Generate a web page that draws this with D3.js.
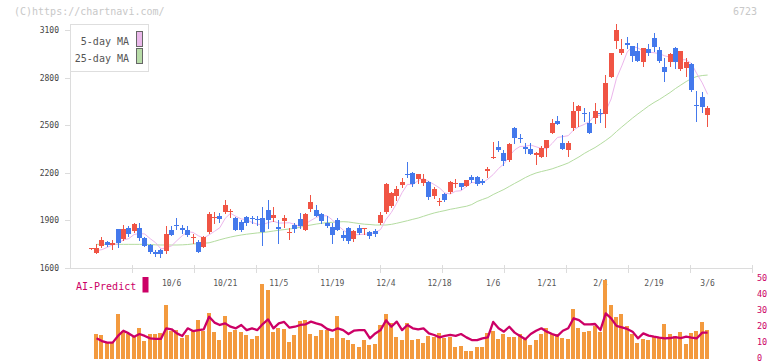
<!DOCTYPE html>
<html><head><meta charset="utf-8">
<script src="https://cdn.jsdelivr.net/npm/d3@7"></script>
<style>body{margin:0;background:#fff}svg{display:block}text{font-family:"DejaVu Sans Mono",monospace}</style>
</head><body><svg id="c" width="772" height="361"></svg>
<script>
const dates = ["9/11","9/12","9/16","9/17","9/18","9/19","9/22","9/24","9/25","9/26",
"9/29","9/30","10/1","10/2","10/3","10/6","10/7","10/8","10/9","10/10",
"10/14","10/15","10/16","10/17","10/20","10/21","10/22","10/23","10/24","10/27",
"10/28","10/29","10/30","10/31","11/4","11/5","11/6","11/7","11/10","11/11",
"11/12","11/13","11/14","11/17","11/18","11/19","11/20","11/21","11/25","11/26",
"11/27","11/28","12/1","12/2","12/3","12/4","12/5","12/8","12/9","12/10",
"12/11","12/12","12/15","12/16","12/17","12/18","12/19","12/22","12/23","12/24",
"12/25","12/26","12/29","12/30","1/5","1/6","1/7","1/8","1/9","1/13",
"1/14","1/15","1/16","1/19","1/20","1/21","1/22","1/23","1/26","1/27",
"1/28","1/29","1/30","2/2","2/3","2/4","2/5","2/6","2/9","2/10",
"2/12","2/13","2/16","2/17","2/18","2/19","2/20","2/24","2/25","2/26",
"2/27","3/2","3/3","3/4","3/5","3/6"];
const open = [1722,1696,1739,1766,1743,1846,1783,1854,1835,1852,
1791,1745,1703,1711,1707,1840,1871,1852,1840,1789,
1766,1734,1827,1915,1928,1953,1951,1915,1890,1922,
1912,1908,1915,1966,1912,1860,1894,1827,1869,1909,
1840,1974,1966,1940,1886,1860,1903,1808,1851,1781,
1851,1846,1827,1833,1882,1955,1993,2056,2125,2194,
2197,2163,2138,2144,2056,2016,2068,2081,2132,2134,
2119,2173,2173,2151,2213,2298,2363,2323,2281,2484,
2421,2365,2348,2314,2302,2354,2453,2526,2388,2346,
2484,2592,2578,2514,2547,2574,2570,2806,3033,2957,
3018,2999,2968,2901,2981,3052,2974,2869,2901,2989,
2853,2863,2886,2629,2676,2564];
const high = [1724,1749,1795,1772,1776,1846,1871,1865,1886,1884,
1797,1751,1711,1718,1865,1865,1917,1871,1865,1816,
1778,1804,1953,1951,1945,2029,1972,1920,1903,1928,
1925,1928,1986,2029,1982,1903,1934,1854,1882,1945,
1945,2060,1997,1945,1928,1882,1913,1833,1857,1840,
1871,1852,1833,1844,1953,2138,2078,2117,2169,2268,
2204,2192,2192,2148,2112,2039,2075,2148,2161,2138,
2157,2184,2182,2159,2237,2394,2400,2344,2388,2491,
2445,2386,2386,2333,2369,2407,2537,2558,2438,2400,
2644,2627,2606,2581,2638,2602,2816,2953,3136,3044,
3054,2999,3016,2989,3010,3083,2995,2926,2957,2995,
2968,2922,2894,2716,2707,2623];
const low = [1722,1696,1734,1739,1722,1734,1776,1804,1829,1776,
1739,1695,1678,1671,1696,1810,1844,1823,1804,1756,
1703,1732,1821,1882,1888,1947,1920,1840,1833,1871,
1882,1871,1745,1851,1896,1760,1860,1785,1829,1851,
1840,1962,1925,1886,1860,1760,1840,1776,1760,1772,
1814,1816,1791,1804,1878,1949,1987,2029,2109,2171,
2119,2134,2123,2037,2044,1997,2025,2075,2112,2096,
2119,2144,2123,2127,2176,2295,2339,2249,2274,2390,
2396,2323,2319,2258,2299,2308,2449,2509,2350,2308,
2470,2497,2528,2449,2512,2519,2490,2806,2989,2948,
2985,2907,2907,2876,2942,2970,2901,2779,2876,2863,
2845,2813,2716,2526,2585,2495];
const close = [1724,1724,1776,1745,1759,1759,1846,1814,1879,1791,
1741,1701,1686,1686,1816,1810,1869,1840,1810,1793,
1703,1797,1940,1920,1909,1997,1961,1840,1840,1886,
1910,1904,1825,1903,1934,1848,1912,1829,1848,1865,
1940,2016,1928,1898,1865,1808,1840,1791,1772,1833,
1819,1850,1802,1812,1934,2131,2071,2098,2142,2192,
2129,2192,2163,2049,2098,2020,2029,2140,2135,2112,
2155,2155,2127,2138,2224,2300,2344,2276,2382,2417,
2411,2348,2319,2327,2359,2407,2514,2509,2350,2388,
2589,2621,2575,2449,2589,2572,2763,2953,3100,2983,
3008,2938,2907,2989,2957,2995,2907,2838,2950,2901,
2968,2901,2722,2627,2617,2606];
const ma5 = [null,1709,1716,1730,1746,1753,1777,1785,1811,1818,
1814,1785,1760,1721,1726,1740,1773,1804,1829,1824,
1803,1789,1809,1831,1854,1913,1945,1925,1909,1905,
1887,1876,1873,1886,1895,1883,1884,1885,1874,1860,
1879,1900,1919,1929,1929,1903,1868,1840,1815,1809,
1811,1813,1815,1823,1843,1906,1950,2009,2075,2127,
2126,2151,2164,2145,2126,2104,2072,2067,2084,2087,
2114,2139,2137,2137,2160,2189,2227,2256,2305,2344,
2366,2367,2375,2364,2353,2352,2385,2423,2428,2434,
2470,2491,2505,2524,2565,2561,2590,2665,2795,2874,
2961,2996,2987,2965,2960,2957,2951,2937,2929,2918,
2913,2912,2888,2824,2767,2695];
const ma25 = [null,1749,1749,1749,1749,1749,1749,1749,1749,1749,
1749,1748,1746,1745,1745,1745,1745,1746,1748,1752,
1753,1756,1759,1768,1778,1787,1795,1802,1808,1813,
1817,1821,1824,1828,1833,1838,1842,1846,1850,1857,
1865,1871,1877,1882,1886,1888,1890,1892,1890,1885,
1880,1876,1874,1871,1871,1871,1875,1882,1890,1898,
1907,1915,1926,1937,1947,1955,1962,1970,1976,1983,
1989,2000,2019,2032,2044,2063,2079,2095,2114,2133,
2151,2170,2186,2199,2208,2216,2225,2237,2249,2262,
2281,2300,2322,2341,2359,2381,2404,2429,2460,2489,
2517,2545,2571,2596,2621,2643,2662,2684,2706,2731,
2753,2775,2794,2807,2813,2816];
const volume = [null,15.9,15.1,10.9,10.9,28.5,17.8,15.7,13.6,19.5,
11.3,15.9,15.9,16.6,34,17.8,18,13.4,15.1,17.8,
24.5,17.8,29.1,17.2,11.9,27,17.2,18.2,17.2,15.1,
12.6,14.5,47.2,43.4,17.2,19.3,18.9,10.9,15.1,23.9,
24.5,15.9,14.5,18.2,18.2,13.4,27,13.4,11.9,9.4,
7.3,11.9,8.8,9.5,21.4,28.3,22.4,13.6,11.9,22.4,
11.9,12.8,9.9,14.5,14,16.6,13,13.6,7.8,8.2,
5.2,5.2,7.3,7.3,16.6,17.4,12.8,15.7,13.6,14,
15.7,13,8.8,11.9,15.7,19.3,15.7,15.7,13.4,12.6,
31.4,19.5,17.2,17.8,20.8,17.2,50,34,26.6,28.3,
20.8,15.7,10.3,12.6,11.9,13.6,13.6,22,15.7,14.5,
17.2,9.4,16.6,17.8,23.3,18.2];
const aiPredict = [null,13.0,11.3,10.3,10.3,14.5,17.8,16.1,14.0,15.7,
14.5,13.0,12.6,12.6,19.3,18.7,16.1,14.5,19.3,17.6,
18.2,18.7,26.6,22.9,21.4,22.4,20.3,19.3,21.4,18.2,
19.3,18.2,22,24.9,19.3,22.4,23.3,19.7,20.3,21.4,
21.8,23.5,22.4,21.4,18.9,17.8,19.3,18.2,15.7,17.8,
18.2,18.2,13,16.1,18.2,24.3,20.3,23.5,18.2,21.4,
19.3,18.7,19.3,16.1,15.1,13.6,14.5,15.1,14.5,15.7,
13.6,11.9,11.9,13,13.6,23.3,19.3,17.2,20.3,16.6,
14.5,12.4,15.7,17.8,19.3,17.2,15.7,14.5,17.8,19.3,
25.6,24.5,21.8,21.8,22,18.2,28.7,25.6,20.8,19.9,
18.9,17.2,13,16.1,14.7,14,13.4,13,13.2,13.8,
13.2,14,13.4,13,16.6,16.6];
const priceTicks = [1600,1900,2200,2500,2800,3100];
const volTicks = [0,10,20,30,40,50];
const dateLabels = ["10/6","10/21","11/5","11/19","12/4","12/18","1/6","1/21","2/4","2/19","3/6"];
const legendItems = [{name:"5-day MA",color:"#eab8ea"},{name:"25-day MA",color:"#b8dca8"}];

const svg = d3.select("#c");
const x = d3.scaleBand().domain(dates).range([88.52, 710.28]).padding(0);
const cx = d => x(d) + x.bandwidth()/2;
const y = d3.scaleLinear().domain([1600,3100]).range([268,30]);
const yv = d3.scaleLinear().domain([0,50]).range([359,279.5]);
const axisX = d3.scaleLinear().domain([0,11]).range([70,752]);

const RED = "#f05444", BLUE = "#4479ec", GRID = "#dcdcdc";

// header texts
svg.append("text").attr("x",14).attr("y",15).attr("font-size",10).attr("fill","#c8c8c8").text("(C)https://chartnavi.com/");
svg.append("text").attr("x",757).attr("y",15).attr("text-anchor","end").attr("font-size",10).attr("fill","#c8c8c8").text("6723");

// axes
const g = svg.append("g").attr("shape-rendering","crispEdges");
g.append("line").attr("x1",70.5).attr("x2",70.5).attr("y1",24).attr("y2",268).attr("stroke",GRID);
g.append("line").attr("x1",70).attr("x2",752).attr("y1",268.5).attr("y2",268.5).attr("stroke",GRID).attr("stroke-width",1.5);
g.selectAll(".xt").data(d3.range(1,12)).join("line")
  .attr("x1",d=>Math.round(axisX(d))+0.5).attr("x2",d=>Math.round(axisX(d))+0.5)
  .attr("y1",265).attr("y2",273).attr("stroke",GRID).attr("stroke-width",1.5);
g.selectAll(".yt").data(priceTicks).join("line")
  .attr("x1",65).attr("x2",70).attr("y1",d=>Math.round(y(d))+0.5).attr("y2",d=>Math.round(y(d))+0.5).attr("stroke",GRID);
svg.selectAll(".yl").data(priceTicks).join("text")
  .attr("x",59).attr("y",d=>y(d)+3).attr("text-anchor","end").attr("font-size",8).attr("fill","#444").text(d=>d);

// moving averages
const lineGen = arr => d3.line().defined(d=>arr[dates.indexOf(d)]!=null).x(cx).y(d=>y(arr[dates.indexOf(d)]));
svg.append("path").attr("d",lineGen(ma25)(dates)).attr("fill","none").attr("stroke","#b4dca0").attr("stroke-width",1);
svg.append("path").attr("d",lineGen(ma5)(dates)).attr("fill","none").attr("stroke","#ecb6ec").attr("stroke-width",1);

// candles
const cg = svg.append("g").attr("shape-rendering","crispEdges");
dates.forEach((d,i)=>{
  const col = close[i] >= open[i] ? RED : BLUE;
  const x0 = Math.round(cx(d) - 2.5);
  cg.append("line").attr("x1",x0+2.5).attr("x2",x0+2.5).attr("y1",Math.round(y(high[i]))).attr("y2",Math.round(y(low[i]))+1).attr("stroke",col);
  const t = Math.round(y(Math.max(open[i],close[i]))), b = Math.round(y(Math.min(open[i],close[i])));
  cg.append("rect").attr("x",x0).attr("width",5).attr("y",t).attr("height",Math.max(1,b-t)).attr("fill",col);
});

// legend
const lg = svg.append("g");
lg.append("rect").attr("x",70.5).attr("y",24.5).attr("width",78).attr("height",46.5).attr("fill","#fff").attr("stroke","#dedede").attr("shape-rendering","crispEdges");
legendItems.forEach((it,k)=>{
  lg.append("text").attr("x",129).attr("y",45+k*16.5).attr("text-anchor","end").attr("font-size",10).attr("fill","#555").text(it.name);
  lg.append("rect").attr("x",136.5).attr("y",31.5+k*17).attr("width",6).attr("height",15).attr("fill",it.color).attr("stroke","#666").attr("shape-rendering","crispEdges");
});

// lower panel: date labels (under bars)
svg.selectAll(".xl").data(dateLabels).join("text")
  .attr("x",d=>cx(d)).attr("y",285.5).attr("text-anchor","middle").attr("font-size",8).attr("fill","#555").text(d=>d);
svg.append("text").attr("x",76).attr("y",289.5).attr("font-size",10).attr("fill","#cc0066").text("AI-Predict");
svg.append("rect").attr("x",142.5).attr("y",277).attr("width",6).attr("height",15.5).attr("fill","#cc0066");

// volume bars
svg.append("g").attr("shape-rendering","crispEdges").selectAll("rect")
  .data(dates.filter((d,i)=>volume[i]!=null)).join("rect")
  .attr("x",d=>Math.round(cx(d)-2.5)).attr("width",4)
  .attr("y",d=>yv(volume[dates.indexOf(d)])).attr("height",d=>yv(0)-yv(volume[dates.indexOf(d)]))
  .attr("fill","#f39a3e");

// AI predict line
svg.append("path").attr("d",d3.line().defined(d=>aiPredict[dates.indexOf(d)]!=null).x(cx).y(d=>yv(aiPredict[dates.indexOf(d)]))(dates))
  .attr("fill","none").attr("stroke","#cc0066").attr("stroke-width",2.3).attr("stroke-linejoin","round");

// right axis labels
svg.selectAll(".vl").data(volTicks).join("text")
  .attr("x",757).attr("y",d=>yv(d)+1.5).attr("font-size",8.5).attr("fill","#cc0066").text(d=>d);
</script></body></html>
